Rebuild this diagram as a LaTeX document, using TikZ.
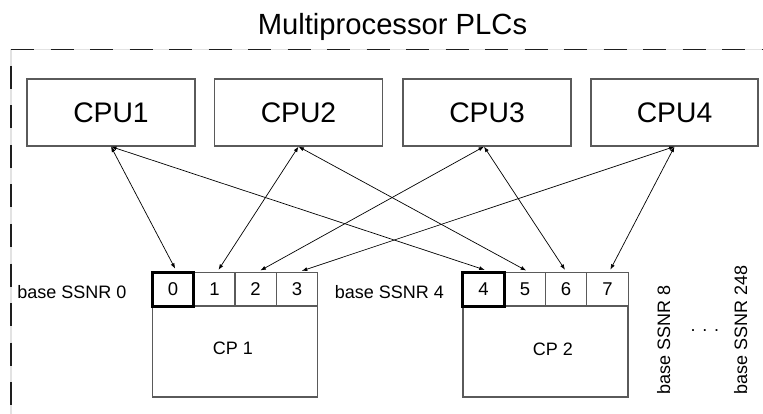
\documentclass[tikz,border=0pt]{standalone}
\usepackage{fontspec}
\setmainfont{Liberation Sans}
\usetikzlibrary{arrows.meta}
\definecolor{boxgray}{HTML}{5A5A5A}
\definecolor{framegray}{HTML}{E2E2E2}
\definecolor{framedash}{HTML}{1E1E1E}
\begin{document}
\begin{tikzpicture}[x=1pt,y=-1pt,
  cpubox/.style={draw=boxgray, line width=1.2pt, minimum width=168pt, minimum height=67pt,
    inner sep=0pt, font=\fontsize{28.3}{32}\selectfont},
  slot/.style={draw=boxgray, line width=1pt, minimum width=41.25pt, minimum height=34pt,
    inner sep=0pt, font=\fontsize{18.5}{20}\selectfont},
  baseslot/.style={slot, draw=black, line width=3pt},
  cpbox/.style={draw=boxgray, line width=1.2pt, minimum width=165pt, minimum height=91pt, inner sep=0pt},
  lbl/.style={font=\fontsize{18}{20}\selectfont, inner sep=0pt, anchor=base},
  vlbl/.style={font=\fontsize{18}{20}\selectfont, inner sep=0pt, anchor=base west, rotate=90},
  link/.style={draw=black, line width=0.7pt,
    {Latex[length=5.5pt,width=4pt]}-{Latex[length=5.5pt,width=4pt]}},
  framebase/.style={draw=framegray, line width=1.5pt},
  framedashes/.style={draw=framedash, line width=1.5pt, dash pattern=on 23pt off 16.5pt}]

\useasboundingbox (0,0) rectangle (763,414);

% title
\node[inner sep=0pt, anchor=base, font=\fontsize{29.2}{32}\selectfont] (title) at (392.5,35) {Multiprocessor PLCs};

% dashed enclosure (top and left sides)
\coordinate (fc) at (11,49.5);
\coordinate (fr) at (763,49.5);
\coordinate (fb) at (11,414);
\draw[framebase] (fb) -- (fc) -- (fr);
\draw[framedashes] (fc) -- (fr);
\draw[framedashes, dash phase=23pt] (fc) -- (fb);

% CPUs
\node[cpubox] (cpu1) at (111,112.5)   {CPU1};
\node[cpubox] (cpu2) at (298.5,112.5) {CPU2};
\node[cpubox] (cpu3) at (487,112.5)   {CPU3};
\node[cpubox, minimum width=167pt] (cpu4) at (674.5,112.5) {CPU4};

% communication processors
\node[cpbox] (cp1) at (235,351.5) {};
\node[cpbox] (cp2) at (545.5,351.5) {};
\node[lbl] (cp1t) at (233,354) {CP 1};
\node[lbl] (cp2t) at (553,355.5) {CP 2};

% SSNR slots of CP 1
\node[slot] (s1) at (214.4,289) {1};
\node[slot] (s2) at (255.6,289) {2};
\node[slot] (s3) at (296.9,289) {3};
\node[baseslot] (s0) at (173.1,289) {0};

% SSNR slots of CP 2
\node[slot] (s5) at (524.9,289) {5};
\node[slot] (s6) at (566.1,289) {6};
\node[slot] (s7) at (607.4,289) {7};
\node[baseslot] (s4) at (483.6,289) {4};

% base SSNR labels
\node[lbl] (b0) at (72,298) {base SSNR 0};
\node[lbl] (b4) at (389.5,298) {base SSNR 4};
\node[vlbl] (b8) at (670,395) {base SSNR 8};
\node[inner sep=0pt, anchor=base west, font=\fontsize{18}{20}\selectfont] (dots) at (690.5,331.5) {. . .};
\node[vlbl] (b248) at (747,395) {base SSNR 248};

% CPU <-> slot links
\draw[link, shorten >=2pt] (cpu1.south) -- ([xshift=3pt]s0.north);
\draw[link, shorten >=2pt] (cpu1.south) -- ([xshift=3pt]s4.north);
\draw[link, shorten >=2pt] (cpu2.south) -- ([xshift=3pt]s1.north);
\draw[link, shorten >=2pt] (cpu2.south) -- ([xshift=3pt]s5.north);
\draw[link, shorten >=2pt] ([xshift=-3pt]cpu3.south) -- ([xshift=3pt]s2.north);
\draw[link, shorten >=2pt] ([xshift=-3pt]cpu3.south) -- ([xshift=0pt]s6.north);
\draw[link, shorten >=2pt] (cpu4.south) -- ([xshift=3pt]s3.north);
\draw[link, shorten >=2pt] (cpu4.south) -- ([xshift=2pt]s7.north);
\end{tikzpicture}
\end{document}
